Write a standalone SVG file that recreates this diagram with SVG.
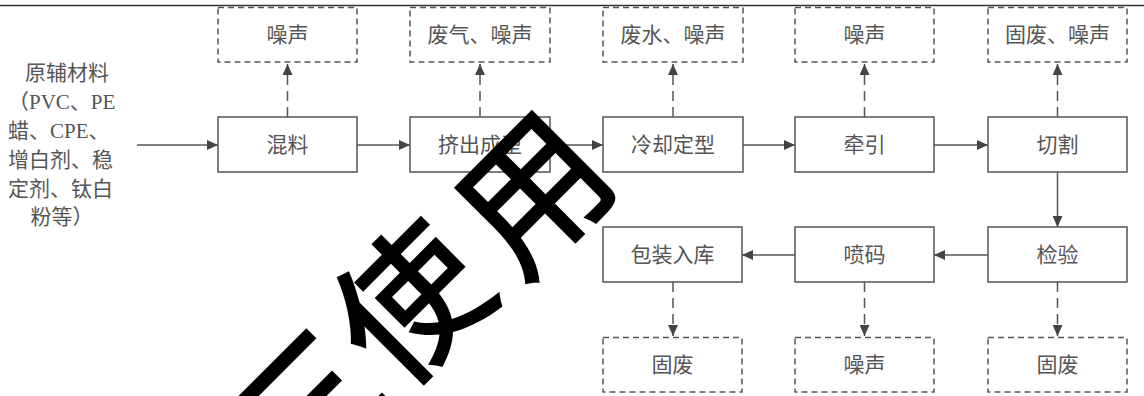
<svg xmlns="http://www.w3.org/2000/svg" width="1144" height="396" viewBox="0 0 1144 396">
<style>
.box{fill:#fff;stroke:#555;stroke-width:1.5}
.dbox{fill:#fff;stroke:#555;stroke-width:1.5;stroke-dasharray:6 4}
.t{font-family:"Liberation Serif","Noto Sans CJK SC",serif;font-size:21px;fill:#555;text-anchor:middle;dominant-baseline:central}
.lt{font-family:"Liberation Serif","Noto Sans CJK SC",serif;font-size:21px;fill:#555}
.ln{fill:none;stroke:#555;stroke-width:1.5}
.dl{fill:none;stroke:#555;stroke-width:1.5;stroke-dasharray:10 6}
.wm{font-family:"Noto Sans CJK SC",sans-serif;font-size:148px;font-weight:500;fill:#000;text-anchor:middle}
</style>
<defs>
<marker id="ah" markerUnits="userSpaceOnUse" markerWidth="12" markerHeight="10" refX="11" refY="5" orient="auto">
<path d="M0,0 L11,5 L0,10 Z" fill="#444"/>
</marker>
</defs>
<rect width="1144" height="396" fill="#fff"/>
<line x1="0" y1="5.5" x2="1144" y2="5.5" stroke="#333" stroke-width="1.5"/>

<g id="input">
<text class="lt" x="67" y="80" text-anchor="middle">原辅材料</text>
<text class="lt" x="8" y="109">（PVC、PE</text>
<text class="lt" x="8" y="138">蜡、CPE、</text>
<text class="lt" x="8" y="167">增白剂、稳</text>
<text class="lt" x="8" y="196">定剂、钛白</text>
<text class="lt" x="62" y="224" text-anchor="middle">粉等）</text>
</g>

<g id="connectors">
<line class="ln" x1="137" y1="145" x2="218" y2="145" marker-end="url(#ah)"/>
<line class="ln" x1="357" y1="145" x2="410" y2="145" marker-end="url(#ah)"/>
<line class="ln" x1="550" y1="145" x2="603" y2="145" marker-end="url(#ah)"/>
<line class="ln" x1="743" y1="145" x2="795" y2="145" marker-end="url(#ah)"/>
<line class="ln" x1="934" y1="145" x2="988" y2="145" marker-end="url(#ah)"/>
<line class="ln" x1="1057.5" y1="172" x2="1057.5" y2="227" marker-end="url(#ah)"/>
<line class="ln" x1="988" y1="255" x2="934" y2="255" marker-end="url(#ah)"/>
<line class="ln" x1="795" y1="255" x2="742" y2="255" marker-end="url(#ah)"/>
<line class="dl" x1="287.5" y1="117" x2="287.5" y2="64" marker-end="url(#ah)"/>
<line class="dl" x1="480" y1="117" x2="480" y2="64" marker-end="url(#ah)"/>
<line class="dl" x1="673" y1="117" x2="673" y2="64" marker-end="url(#ah)"/>
<line class="dl" x1="864.5" y1="117" x2="864.5" y2="64" marker-end="url(#ah)"/>
<line class="dl" x1="1057.5" y1="117" x2="1057.5" y2="64" marker-end="url(#ah)"/>
<line class="dl" x1="673" y1="282" x2="673" y2="336" marker-end="url(#ah)"/>
<line class="dl" x1="864.5" y1="282" x2="864.5" y2="336" marker-end="url(#ah)"/>
<line class="dl" x1="1057.5" y1="282" x2="1057.5" y2="336" marker-end="url(#ah)"/>
</g>

<g id="e1"><rect class="dbox" x="218" y="7.5" width="139" height="54.5"/><text class="t" x="287.5" y="35">噪声</text></g>
<g id="e2"><rect class="dbox" x="410" y="7.5" width="140" height="54.5"/><text class="t" x="480" y="35">废气、噪声</text></g>
<g id="e3"><rect class="dbox" x="603" y="7.5" width="140" height="54.5"/><text class="t" x="673" y="35">废水、噪声</text></g>
<g id="e4"><rect class="dbox" x="795" y="7.5" width="139" height="54.5"/><text class="t" x="864.5" y="35">噪声</text></g>
<g id="e5"><rect class="dbox" x="988" y="7.5" width="139" height="54.5"/><text class="t" x="1057.5" y="35">固废、噪声</text></g>

<g id="n1"><rect class="box" x="218" y="117" width="139" height="55"/><text class="t" x="287.5" y="145">混料</text></g>
<g id="n2"><rect class="box" x="410" y="117" width="140" height="55"/><text class="t" x="480" y="145">挤出成型</text></g>
<g id="n3"><rect class="box" x="603" y="117" width="140" height="55"/><text class="t" x="673" y="145">冷却定型</text></g>
<g id="n4"><rect class="box" x="795" y="117" width="139" height="55"/><text class="t" x="864.5" y="145">牵引</text></g>
<g id="n5"><rect class="box" x="988" y="117" width="139" height="55"/><text class="t" x="1057.5" y="145">切割</text></g>

<g id="n6"><rect class="box" x="988" y="227" width="139" height="55"/><text class="t" x="1057.5" y="255">检验</text></g>
<g id="n7"><rect class="box" x="795" y="227" width="139" height="55"/><text class="t" x="864.5" y="255">喷码</text></g>
<g id="n8"><rect class="box" x="603" y="227" width="139" height="55"/><text class="t" x="672.5" y="255">包装入库</text></g>

<g id="e6"><rect class="dbox" x="988" y="337.5" width="139" height="54.5"/><text class="t" x="1057.5" y="365">固废</text></g>
<g id="e7"><rect class="dbox" x="795" y="337.5" width="139" height="54.5"/><text class="t" x="864.5" y="365">噪声</text></g>
<g id="e8"><rect class="dbox" x="603" y="337.5" width="139" height="54.5"/><text class="t" x="672.5" y="365">固废</text></g>

<g id="watermark">
<text class="wm" transform="translate(410,302) rotate(-45)" y="56"><tspan x="-148">三</tspan><tspan x="0">使</tspan><tspan x="164" dy="9">用</tspan></text>
</g>
</svg>
